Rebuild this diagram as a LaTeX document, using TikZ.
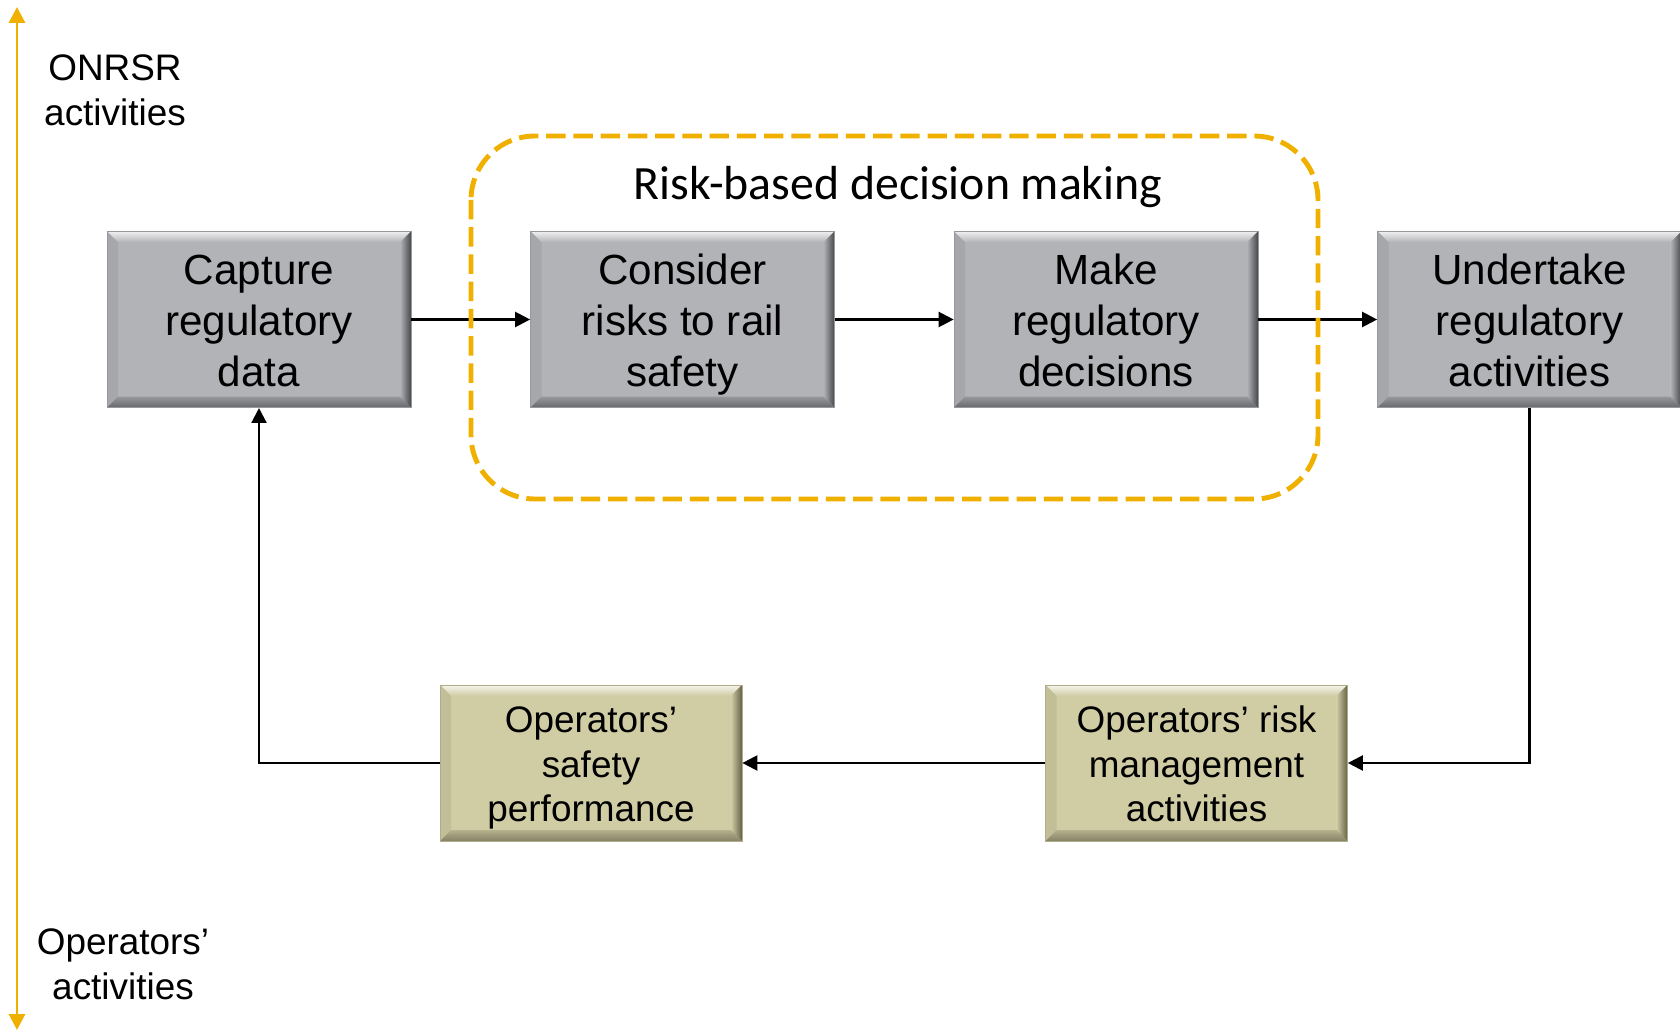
\documentclass[tikz,border=0pt]{standalone}
\usepackage{fontspec}
\setmainfont{Liberation Sans}
\newfontfamily\calibri{Carlito}
\usetikzlibrary{arrows.meta, positioning}

\definecolor{onrsrorange}{RGB}{240,176,0}
\definecolor{facegrey}{RGB}{178,179,183}
\definecolor{darkgrey}{RGB}{70,71,75}
\definecolor{facetan}{RGB}{208,204,164}
\definecolor{darktan}{RGB}{100,96,72}

\newcommand{\bevw}{0.22cm}
\tikzset{
  bevel/.style 2 args={fill=#1, draw=#1!85!black, line width=0.4pt, path picture={
      \path (path picture bounding box.north west) coordinate (onw)
            (path picture bounding box.north east) coordinate (one)
            (path picture bounding box.south east) coordinate (ose)
            (path picture bounding box.south west) coordinate (osw)
            ([shift={(\bevw,-\bevw)}]onw) coordinate (inw)
            ([shift={(-\bevw,-\bevw)}]one) coordinate (ine)
            ([shift={(-\bevw,\bevw)}]ose) coordinate (ise)
            ([shift={(\bevw,\bevw)}]osw) coordinate (isw);
      \shade[top color=white!80!#1, bottom color=#1] (onw) -- (one) -- (ine) -- (inw) -- cycle;
      \fill[#1!93!black] (onw) -- (inw) -- (isw) -- (osw) -- cycle;
      \shade[left color=#1, right color=#2] (one) -- (ose) -- (ise) -- (ine) -- cycle;
      \shade[top color=#1!75!#2, bottom color=#2!70!#1] (osw) -- (isw) -- (ise) -- (ose) -- cycle;
    }},
  struts/.style={execute at begin node={\rule{0pt}{#1}}, execute at end node=\strut}
}
\tikzstyle{regstep} = [rectangle, minimum width=6.08cm, minimum height=3.5cm, text width=5.8cm, align=flush center, font=\fontsize{24}{29}\selectfont, struts=27pt, bevel={facegrey}{darkgrey}]
\tikzstyle{opstep} = [rectangle, minimum width=6.04cm, minimum height=3.08cm, text width=5.8cm, align=flush center, font=\fontsize{21}{25.3}\selectfont, struts=24pt, bevel={facetan}{darktan}]
\tikzstyle{sidelabel} = [align=center, font=\fontsize{21}{25.6}\selectfont]
\tikzstyle{riskframe} = [onrsrorange, line width=2.8pt, dash pattern=on 11pt off 4.5pt, rounded corners=1.28cm]
\tikzstyle{arrow} = [line width=1.3pt, -{Triangle[length=8.5pt,width=8.5pt]}]
\tikzstyle{levelaxis} = [onrsrorange, line width=1.7pt, {Triangle[length=9pt,width=9pt]}-{Triangle[length=9pt,width=9pt]}]

\begin{document}
\begin{tikzpicture}[node distance=8.47cm]
    \useasboundingbox (0,0) rectangle (33.6,-20.62);
    \node (capture) [regstep] at (5.18,-6.39) {Capture\\regulatory\\data};
    \node (consider) [regstep, right of=capture] {Consider\\risks to rail\\safety};
    \node (decide) [regstep, right of=consider] {Make\\regulatory\\decisions};
    \node (undertake) [regstep, right of=decide] {Undertake\\regulatory\\activities};
    \node (riskmgmt) [opstep] at (23.93,-15.26) {Operators’ risk\\management\\activities};
    \node (safetyperf) [opstep, node distance=12.11cm, left of=riskmgmt] {Operators’\\safety\\performance};

    \node (onrsr) [sidelabel] at (2.3,-1.81) {ONRSR\\activities};
    \node (operators) [sidelabel] at (2.46,-19.29) {Operators’\\activities};
    \coordinate (axtop) at (0.34,-0.14);
    \coordinate (axbot) at (0.34,-20.6);
    \draw [levelaxis] (axbot) -- (axtop);

    \draw [arrow] (capture) -- (consider);
    \draw [arrow] (consider) -- (decide);
    \draw [arrow] (decide) -- (undertake);
    \draw [arrow] (undertake) |- (riskmgmt);
    \draw [arrow] (riskmgmt) -- (safetyperf);
    \draw [arrow] (safetyperf) -| (capture);

    % risk-based decision making frame
    \draw [riskframe] (9.42,-2.72) rectangle (26.36,-9.98);
    \node (riskbased) at (17.96,-3.74) {\calibri\fontsize{27.2}{32}\selectfont Risk-based decision making};
\end{tikzpicture}
\end{document}
